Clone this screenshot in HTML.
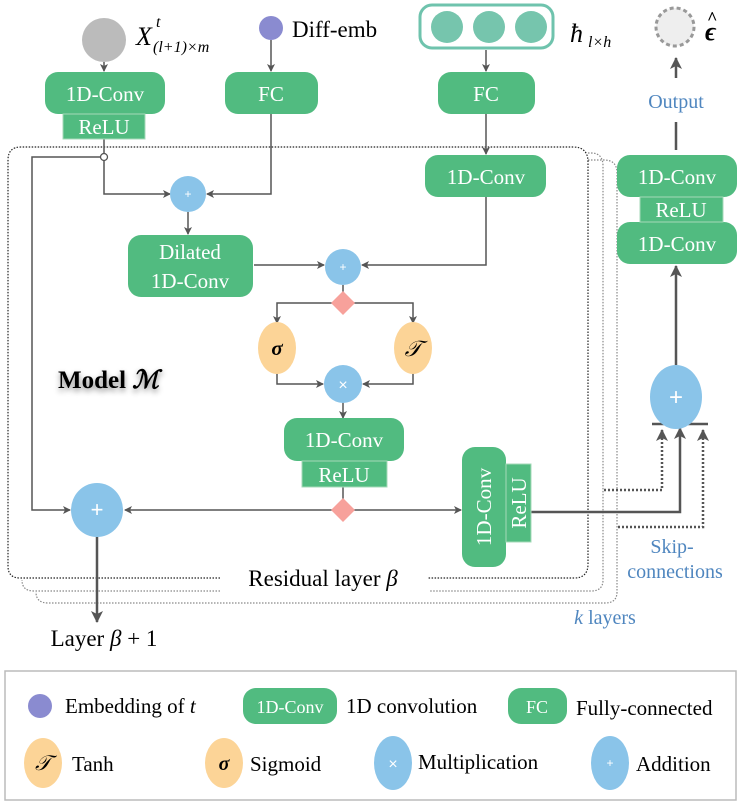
<!DOCTYPE html>
<html><head><meta charset="utf-8"><style>
html,body{margin:0;padding:0;background:#fff;}
svg{display:block;font-family:"Liberation Serif",serif;}
</style></head><body>
<svg width="747" height="811" viewBox="0 0 747 811" xmlns="http://www.w3.org/2000/svg">
<defs>
<marker id="a" markerWidth="8" markerHeight="8" refX="7" refY="4" orient="auto" markerUnits="userSpaceOnUse"><path d="M0,0 L8,4 L0,8 L2,4 z" fill="#555"/></marker>
<marker id="b" markerWidth="12" markerHeight="12" refX="11" refY="6" orient="auto" markerUnits="userSpaceOnUse"><path d="M0,0 L12,6 L0,12 L3,6 z" fill="#555"/></marker>
<filter id="sh" x="-20%" y="-50%" width="140%" height="200%"><feDropShadow dx="0" dy="3" stdDeviation="3" flood-color="#000" flood-opacity="0.45"/></filter>
</defs>
<g fill="none" stroke="#888" stroke-dasharray="1.5,1.5" stroke-width="1.2">
<path d="M588,153 H591 Q603,153 603,166 V580 Q603,591 591,591 H430 M220,591 H34 Q22,591 22,580"/>
<path d="M588,160 H604 Q617,160 617,173 V592 Q617,603 605,603 H48 Q36,603 36,592"/>
</g>
<path d="M220,578 L20,578 Q8,578 8,566 L8,160 Q8,147 21,147 L573,147 Q588,147 588,162 L588,564 Q588,578 574,578 L428,578" fill="none" stroke="#222" stroke-dasharray="1.5,1.5" stroke-width="1.2"/>
<circle cx="104" cy="40" r="22" fill="#bbb"/>
<text x="136" y="45" font-size="26" font-style="italic">X</text>
<text x="156" y="27" font-size="16" font-style="italic">t</text>
<text x="153" y="52" font-size="16" font-style="italic">(l+1)×m</text>
<circle cx="271" cy="28" r="12" fill="#8a8bd0"/>
<text x="292" y="37" font-size="23">Diff-emb</text>
<rect x="420" y="5" width="133" height="43" rx="12" fill="none" stroke="#6fc3ad" stroke-width="3"/>
<circle cx="447" cy="27" r="16" fill="#76c5ad"/><circle cx="489" cy="27" r="16" fill="#76c5ad"/><circle cx="531" cy="27" r="16" fill="#76c5ad"/>
<text x="570" y="42" font-size="26" font-style="italic">ħ</text>
<text x="588" y="47" font-size="16" font-style="italic">l×h</text>
<circle cx="675" cy="27" r="19" fill="#eee" stroke="#999" stroke-width="3" stroke-dasharray="4,3"/>
<text x="705" y="40" font-size="26" font-weight="bold" font-style="italic">ϵ</text>
<text x="707" y="24" font-size="18" font-weight="bold">^</text>
<g stroke="#555" stroke-width="1.5" fill="none">
<path d="M104,62 V71" marker-end="url(#a)"/><path d="M271,40 V71" marker-end="url(#a)"/><path d="M486,50 V71" marker-end="url(#a)"/>
<path d="M486,113 V154" marker-end="url(#a)"/>
<path d="M104,139 V194 H170" marker-end="url(#a)"/>
<path d="M104,157 H32 V510 H70" marker-end="url(#a)"/>
<path d="M271,113 V194 H207" marker-end="url(#a)"/>
<path d="M188,212 V234" marker-end="url(#a)"/>
<path d="M254,265 H324" marker-end="url(#a)"/>
<path d="M486,196 V265 H362" marker-end="url(#a)"/>
<path d="M343,285 V294"/>
<path d="M335,303 H277 V323" marker-end="url(#a)"/>
<path d="M351,303 H413 V323" marker-end="url(#a)"/>
<path d="M277,372 V384 H323" marker-end="url(#a)"/>
<path d="M413,372 V384 H363" marker-end="url(#a)"/>
<path d="M343,402 V418" marker-end="url(#a)"/>
<path d="M343,487 V502"/>
<path d="M333,510 H125" marker-end="url(#a)"/>
<path d="M353,510 H461" marker-end="url(#a)"/>
</g>
<circle cx="104" cy="157" r="3.5" fill="#fff" stroke="#555" stroke-width="1.3"/>
<g stroke="#555" stroke-width="2.5" fill="none">
<path d="M97,537 V622" marker-end="url(#b)"/>
<path d="M531,512 H680 V428" marker-end="url(#b)"/>
<path d="M676,365 V266" marker-end="url(#b)"/>
<path d="M676,150 V122"/><path d="M676,78 V58" marker-end="url(#b)"/>
<path d="M652,424 H708"/>
</g>
<g stroke="#555" stroke-width="2.5" fill="none" stroke-dasharray="2,2">
<path d="M604,490 H662 V430" marker-end="url(#b)"/>
<path d="M618,527 H703 V430" marker-end="url(#b)"/>
</g>
<g fill="#51bb80">
<rect x="45" y="72" width="120" height="42" rx="13"/>
<rect x="225" y="72" width="93" height="42" rx="13"/>
<rect x="438" y="72" width="97" height="42" rx="13"/>
<rect x="425" y="155" width="121" height="42" rx="13"/>
<rect x="128" y="235" width="125" height="62" rx="13"/>
<rect x="284" y="418" width="120" height="43" rx="13"/>
<rect x="617" y="155" width="120" height="42" rx="13"/>
<rect x="617" y="222" width="120" height="42" rx="13"/>
<rect x="462" y="447" width="44" height="120" rx="13"/>
</g>
<g fill="#51bb80" stroke="#a5d9b8" stroke-width="1">
<rect x="63" y="114" width="82" height="25"/>
<rect x="302" y="461" width="85" height="26"/>
<rect x="640" y="197" width="83" height="25"/>
<rect x="506" y="464" width="25" height="78"/>
</g>
<g fill="#fff" font-size="21" text-anchor="middle">
<text x="105" y="101">1D-Conv</text><text x="104" y="134">ReLU</text>
<text x="271" y="101">FC</text><text x="486" y="101">FC</text>
<text x="486" y="184">1D-Conv</text>
<text x="190" y="259">Dilated</text><text x="190" y="288">1D-Conv</text>
<text x="344" y="447">1D-Conv</text><text x="344" y="482">ReLU</text>
<text x="677" y="184">1D-Conv</text><text x="681" y="217">ReLU</text><text x="677" y="251">1D-Conv</text>
<text transform="translate(491,507) rotate(-90)">1D-Conv</text>
<text transform="translate(526,503) rotate(-90)">ReLU</text>
</g>
<g fill="#8ac4e9">
<circle cx="188" cy="194" r="18"/><circle cx="343" cy="267" r="18"/><circle cx="343" cy="384" r="19"/>
<ellipse cx="97" cy="510" rx="26" ry="27"/><ellipse cx="676" cy="397" rx="26" ry="32"/>
</g>
<g fill="#fff" text-anchor="middle" font-family="Liberation Sans,sans-serif">
<text x="188" y="198" font-size="12">+</text><text x="343" y="271" font-size="12">+</text><text x="343" y="390" font-size="16">×</text>
<text x="97" y="517" font-size="22">+</text><text x="676" y="405" font-size="24">+</text>
</g>
<g fill="#fcd497"><ellipse cx="277" cy="348" rx="19" ry="26"/><ellipse cx="413" cy="348" rx="19" ry="26"/></g>
<text x="277" y="355" font-size="21" font-style="italic" font-weight="bold" text-anchor="middle">σ</text>
<text x="413" y="356" font-size="22" font-style="italic" text-anchor="middle">𝒯</text>
<path d="M343,291 L355,303 L343,315 L331,303 z" fill="#f7a19b"/>
<path d="M343,498 L355,510 L343,522 L331,510 z" fill="#f7a19b"/>
<text x="58" y="388" font-size="25" font-weight="bold" filter="url(#sh)">Model <tspan font-style="italic">ℳ</tspan></text>
<text x="323" y="586" font-size="23" text-anchor="middle">Residual layer <tspan font-style="italic">β</tspan></text>
<text x="104" y="646" font-size="23" text-anchor="middle">Layer <tspan font-style="italic">β</tspan> + 1</text>
<g fill="#4f86bf" font-size="20" text-anchor="middle">
<text x="676" y="108">Output</text>
<text x="672" y="553">Skip-</text><text x="675" y="578">connections</text>
<text x="605" y="624"><tspan font-style="italic">k</tspan> layers</text>
</g>
<rect x="5" y="671" width="731" height="129" fill="#fff" stroke="#bbb" stroke-width="1.5"/>
<circle cx="40" cy="706" r="12" fill="#8a8bd0"/>
<text x="65" y="713" font-size="21">Embedding of <tspan font-style="italic">t</tspan></text>
<rect x="243" y="688" width="94" height="36" rx="13" fill="#51bb80"/>
<text x="290" y="713" font-size="18" fill="#fff" text-anchor="middle">1D-Conv</text>
<text x="346" y="713" font-size="21">1D convolution</text>
<rect x="508" y="688" width="59" height="36" rx="13" fill="#51bb80"/>
<text x="537" y="713" font-size="18" fill="#fff" text-anchor="middle">FC</text>
<text x="576" y="715" font-size="21">Fully-connected</text>
<ellipse cx="43" cy="763" rx="19" ry="25" fill="#fcd497"/>
<text x="43" y="770" font-size="21" font-style="italic" text-anchor="middle">𝒯</text>
<text x="72" y="771" font-size="21">Tanh</text>
<ellipse cx="224" cy="763" rx="19" ry="25" fill="#fcd497"/>
<text x="224" y="770" font-size="20" font-style="italic" font-weight="bold" text-anchor="middle">σ</text>
<text x="250" y="771" font-size="21">Sigmoid</text>
<ellipse cx="393" cy="763" rx="19" ry="27" fill="#8ac4e9"/>
<text x="393" y="769" font-size="16" fill="#fff" text-anchor="middle" font-family="Liberation Sans,sans-serif">×</text>
<text x="418" y="769" font-size="21">Multiplication</text>
<ellipse cx="610" cy="763" rx="19" ry="27" fill="#8ac4e9"/>
<text x="610" y="767" font-size="12" fill="#fff" text-anchor="middle" font-family="Liberation Sans,sans-serif">+</text>
<text x="636" y="771" font-size="21">Addition</text>
</svg>
</body></html>
